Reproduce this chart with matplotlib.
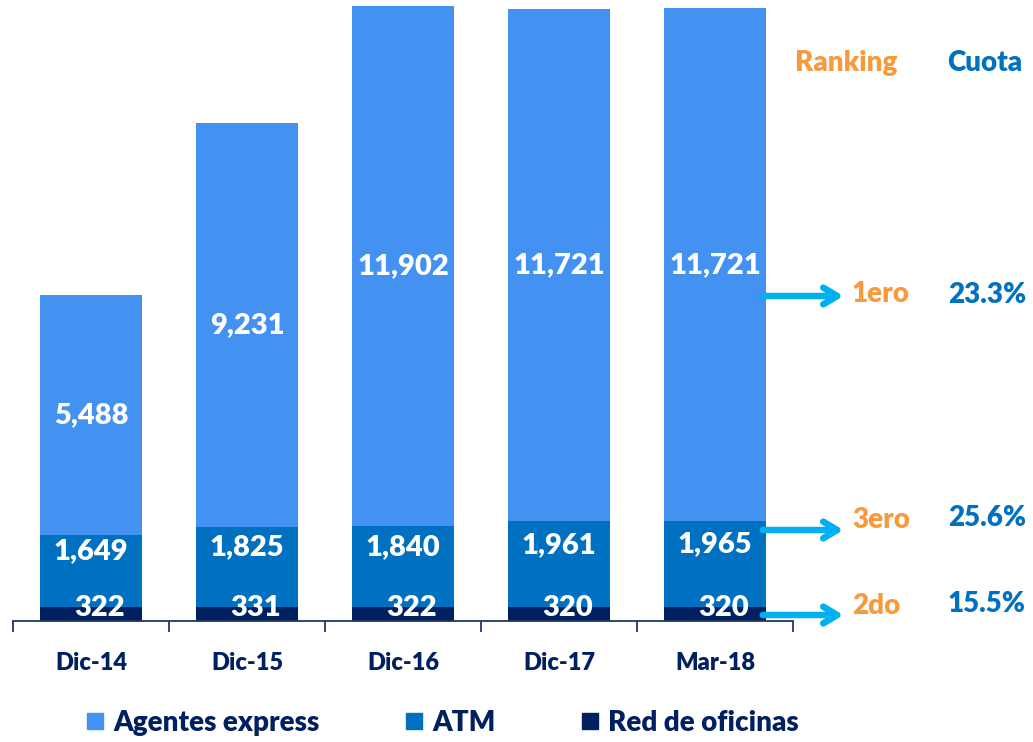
import numpy as np
import matplotlib.pyplot as plt
from matplotlib.lines import Line2D

plt.rcParams['font.family'] = ['Lato', 'DejaVu Sans']

periodos = ['Dic-14', 'Dic-15', 'Dic-16', 'Dic-17', 'Mar-18']
red_oficinas = [322, 331, 322, 320, 320]
atm = [1649, 1825, 1840, 1961, 1965]
agentes = [5488, 9231, 11902, 11721, 11721]

ranking = ['1ero', '3ero', '2do']
cuota = ['23.3%', '25.6%', '15.5%']

c_agentes = '#4391F0'
c_atm = '#0070C0'
c_red = '#002060'
c_arrow = '#00B0F0'
c_orange = '#F79A3C'
c_navy = '#002060'
fw = 'heavy'

fig = plt.figure(figsize=(10.33, 7.42), dpi=100)
ax = fig.add_axes([13/1033, 1 - 621/742, 1020/1033, 621/742])

x = np.arange(len(periodos))
w = 0.66
red = np.array(red_oficinas)
at = np.array(atm)
ag = np.array(agentes)

ax.bar(x, red, w, color=c_red)
ax.bar(x, at, w, bottom=red, color=c_atm)
ax.bar(x, ag, w, bottom=red + at, color=c_agentes)

lbl = dict(color='white', fontsize=21, fontweight=fw, ha='center', va='center',
           textcoords='offset points')
for i in range(len(x)):
    ax.annotate(f'{red[i]:,}', (x[i], red[i] / 2), xytext=(6, 4), **lbl)
    ax.annotate(f'{at[i]:,}', (x[i], red[i] + at[i] / 2), xytext=(0, 14), **lbl)
    ax.annotate(f'{ag[i]:,}', (x[i], red[i] + at[i] + ag[i] / 2), xytext=(0, 0), **lbl)

ax.set_xlim(-0.5, (1033 - 13) / 156 - 0.5)
ax.set_ylim(0, 14200)
for s in ['top', 'right', 'left']:
    ax.spines[s].set_visible(False)
ax.spines['bottom'].set_bounds(-0.5, len(x) - 0.5)
ax.spines['bottom'].set_color('#1F3864')
ax.spines['bottom'].set_linewidth(1.3)
ax.set_yticks([])
ax.set_xticks(x)
ax.set_xticklabels(periodos, fontsize=17, fontweight=fw, color=c_navy)
ax.set_xticks(np.arange(len(x) + 1) - 0.5, minor=True)
ax.tick_params(axis='x', which='major', length=0, pad=22)
ax.tick_params(axis='x', which='minor', length=8, width=1.3, color='#1F3864')

# ranking / cuota annotations
fig.text(846/1033, 1 - 63/742, 'Ranking', color=c_orange, fontsize=20,
         fontweight=fw, ha='center', va='center')
fig.text(985/1033, 1 - 63/742, 'Cuota', color=c_atm, fontsize=20,
         fontweight=fw, ha='center', va='center')

arrow_y = [296, 530, 615]
rank_y = [294, 520, 606]
cuota_y = [295, 518, 604]
for k in range(3):
    y0 = 1 - arrow_y[k] / 742
    fig.add_artist(plt.annotate('', xy=(846/1033, y0), xytext=(760/1033, y0),
                                xycoords='figure fraction',
                                arrowprops=dict(arrowstyle='->,head_length=1.0,head_width=0.6',
                                                color=c_arrow, lw=4.5)))
    fig.text(852/1033, 1 - rank_y[k] / 742, ranking[k], color=c_orange, fontsize=20,
             fontweight=fw, ha='left', va='center')
    fig.text(987/1033, 1 - cuota_y[k] / 742, cuota[k], color=c_atm, fontsize=20,
             fontweight=fw, ha='center', va='center')

handles = [Line2D([], [], marker='s', ls='', color=c, markersize=12)
           for c in [c_agentes, c_atm, c_red]]
fig.legend(handles, ['Agentes express', 'ATM', 'Red de oficinas'], ncol=3,
           loc='center left', bbox_to_anchor=(62/1033, 1 - 723/742), frameon=False,
           prop=dict(size=20, weight=fw), labelcolor=c_navy,
           handlelength=0.6, handletextpad=0.35, columnspacing=3.1)

fig.savefig('out.png', dpi=100)
